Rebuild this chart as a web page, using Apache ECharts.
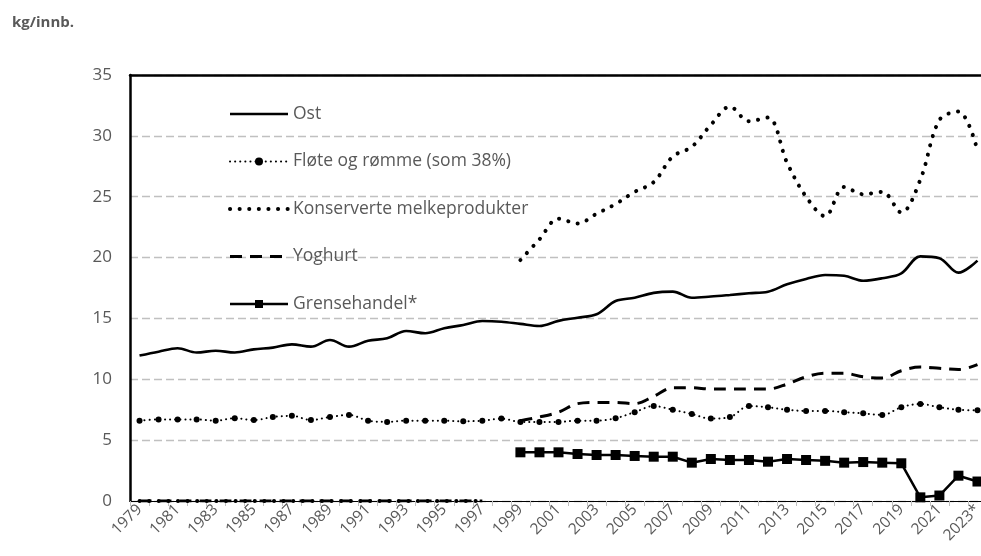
<!DOCTYPE html>
<html>
<head>
<meta charset="utf-8">
<script src="https://cdn.jsdelivr.net/npm/echarts@6/dist/echarts.min.js"></script>
<style>
  html, body { margin: 0; padding: 0; background: #fff; }
  #chart { width: 981px; height: 556px; }
</style>
</head>
<body>
<div id="chart"></div>
<script>
const years = ['1979', '1980', '1981', '1982', '1983', '1984', '1985', '1986', '1987', '1988',
  '1989', '1990', '1991', '1992', '1993', '1994', '1995', '1996', '1997', '1998',
  '1999', '2000', '2001', '2002', '2003', '2004', '2005', '2006', '2007', '2008',
  '2009', '2010', '2011', '2012', '2013', '2014', '2015', '2016', '2017', '2018',
  '2019', '2020', '2021', '2022', '2023*'];

const ost = [11.95, 12.27, 12.55, 12.2, 12.35, 12.2, 12.46, 12.6, 12.87, 12.68,
  13.23, 12.68, 13.17, 13.37, 13.97, 13.78, 14.19, 14.46, 14.79, 14.73,
  14.55, 14.38, 14.8, 15.06, 15.34, 16.43, 16.7, 17.1, 17.2, 16.7,
  16.8, 16.93, 17.07, 17.2, 17.8, 18.24, 18.57, 18.5, 18.1, 18.3,
  18.7, 20.1, 19.95, 18.76, 19.75];

const flote = [6.6, 6.7, 6.7, 6.7, 6.6, 6.8, 6.65, 6.9, 7.0, 6.65,
  6.9, 7.07, 6.6, 6.5, 6.6, 6.6, 6.6, 6.55, 6.6, 6.77,
  6.5, 6.5, 6.5, 6.6, 6.6, 6.8, 7.3, 7.8, 7.5, 7.15,
  6.77, 6.9, 7.8, 7.7, 7.5, 7.4, 7.4, 7.3, 7.2, 7.07,
  7.7, 7.97, 7.7, 7.5, 7.45];

const konserverte = [0, 0, 0, 0, 0, 0, 0, 0, 0, 0,
  0, 0, 0, 0, 0, 0, 0, 0, 0, null,
  19.8, 21.5, 23.2, 22.8, 23.6, 24.4, 25.4, 26.2, 28.3, 29.1,
  30.9, 32.4, 31.2, 31.5, 27.8, 25.0, 23.4, 25.8, 25.2, 25.4,
  23.7, 26.4, 31.3, 32.0, 28.8];

const yoghurt = [0, 0, 0, 0, 0, 0, 0, 0, 0, 0,
  0, 0, 0, 0, 0, 0, 0, 0, 0, null,
  6.6, 6.9, 7.3, 8.0, 8.1, 8.1, 8.0, 8.6, 9.3, 9.3,
  9.2, 9.2, 9.2, 9.2, 9.6, 10.2, 10.5, 10.5, 10.2, 10.1,
  10.7, 11.0, 10.9, 10.8, 11.2];

const grensehandel = [null, null, null, null, null, null, null, null, null, null,
  null, null, null, null, null, null, null, null, null, null,
  4.0, 4.0, 4.0, 3.86, 3.78, 3.78, 3.7, 3.64, 3.64, 3.15,
  3.45, 3.37, 3.37, 3.23, 3.45, 3.37, 3.3, 3.15, 3.2, 3.15,
  3.1, 0.3, 0.45, 2.08, 1.6];

const GREY_TEXT = '#595959';
const FONT = "'Open Sans', sans-serif";

const chart = echarts.init(document.getElementById('chart'));

// series drawn without markers get an invisible legend marker
const noMarker = { opacity: 0 };

chart.setOption({
  animation: false,
  textStyle: { fontFamily: FONT },
  title: {
    text: 'kg/innb.',
    left: 7,
    top: 10,
    textStyle: { fontSize: 15, fontWeight: 'bold', color: GREY_TEXT, fontFamily: FONT },
  },
  legend: {
    orient: 'vertical',
    left: 223,
    top: 100,
    itemGap: 29.5,
    itemWidth: 58,
    itemHeight: 10,
    textStyle: { fontSize: 17.5, color: GREY_TEXT, fontFamily: FONT },
    data: [
      { name: 'Ost', itemStyle: noMarker, lineStyle: { width: 2.6 } },
      { name: 'Fløte og rømme (som 38%)', lineStyle: { width: 2 } },
      { name: 'Konserverte melkeprodukter', itemStyle: noMarker, lineStyle: { width: 4 } },
      { name: 'Yoghurt', itemStyle: noMarker, lineStyle: { width: 3 } },
      { name: 'Grensehandel*', lineStyle: { width: 2.6 } },
    ],
  },
  grid: { left: 130, top: 75, width: 857, bottom: 55, outerBoundsMode: 'none' },
  xAxis: [
    {
      type: 'category',
      data: years,
      boundaryGap: true,
      axisLine: { lineStyle: { color: '#000', width: 1.2 } },
      axisTick: { show: true, interval: 0, length: 5, lineStyle: { color: '#bfbfbf' } },
      axisLabel: { interval: 1, rotate: 45, fontSize: 15.5, color: GREY_TEXT, margin: 6 },
    },
    {
      type: 'category',
      data: years,
      position: 'top',
      axisLine: { lineStyle: { color: '#000', width: 2.5 } },
      axisTick: { show: false },
      axisLabel: { show: false },
    },
  ],
  yAxis: {
    type: 'value',
    min: 0,
    max: 35,
    interval: 5,
    axisLine: { show: true, lineStyle: { color: '#000', width: 2.5 } },
    axisTick: { show: false },
    axisLabel: { fontSize: 17, color: GREY_TEXT, margin: 18 },
    splitLine: { lineStyle: { color: '#c0c0c0', width: 1.3, type: [8, 4] } },
  },
  series: [
    {
      name: 'Ost',
      type: 'line',
      data: ost,
      smooth: 0.35,
      symbol: 'none',
      lineStyle: { color: '#000', width: 2.6 },
      itemStyle: { color: '#000' },
    },
    {
      name: 'Fløte og rømme (som 38%)',
      type: 'line',
      data: flote,
      smooth: 0.35,
      symbol: 'circle',
      symbolSize: 6,
      lineStyle: { color: '#000', width: 2, type: [0.1, 5], cap: 'round' },
      itemStyle: { color: '#000' },
    },
    {
      name: 'Konserverte melkeprodukter',
      type: 'line',
      data: konserverte,
      smooth: 0.35,
      symbol: 'none',
      lineStyle: { color: '#000', width: 4, type: [0.1, 9.5], cap: 'round' },
      itemStyle: { color: '#000' },
    },
    {
      name: 'Yoghurt',
      type: 'line',
      data: yoghurt,
      smooth: 0.35,
      symbol: 'none',
      lineStyle: { color: '#000', width: 3, type: [12, 8] },
      itemStyle: { color: '#000' },
    },
    {
      name: 'Grensehandel*',
      type: 'line',
      data: grensehandel,
      symbol: 'rect',
      symbolSize: 10,
      lineStyle: { color: '#000', width: 2.5 },
      itemStyle: { color: '#000' },
    },
  ],
});
</script>
</body>
</html>
